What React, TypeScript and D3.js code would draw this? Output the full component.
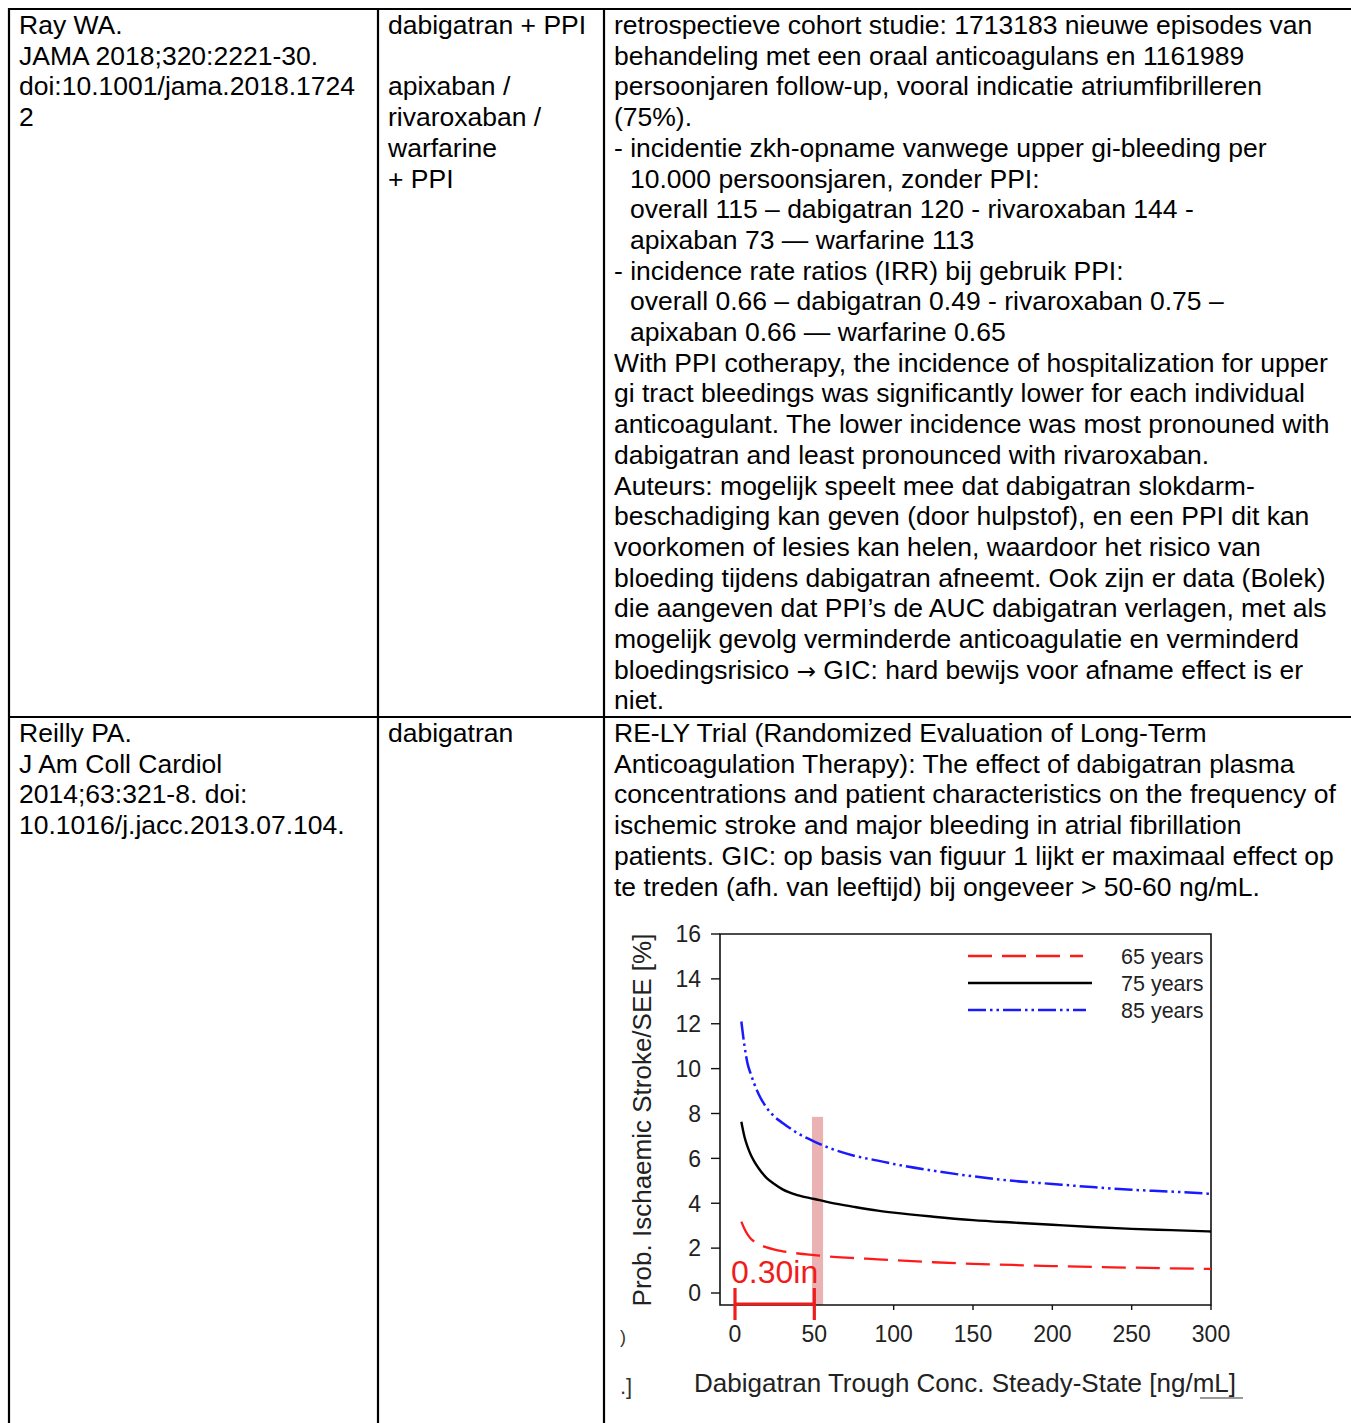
import React, { useEffect, useRef } from 'react';
import * as d3 from 'd3';

// table text
const row1Ref = ['Ray WA.', 'JAMA 2018;320:2221-30.', 'doi:10.1001/jama.2018.1724', '2'];
const row1Drug = ['dabigatran + PPI', '', 'apixaban /', 'rivaroxaban /', 'warfarine', '+ PPI'];
const row1Notes = [
    ['retrospectieve cohort studie: 1713183 nieuwe episodes van', 0],
    ['behandeling met een oraal anticoagulans en 1161989', 0],
    ['persoonjaren follow-up, vooral indicatie atriumfibrilleren', 0],
    ['(75%).', 0],
    ['- incidentie zkh-opname vanwege upper gi-bleeding per', 0],
    ['10.000 persoonsjaren, zonder PPI:', 1],
    ['overall 115 – dabigatran 120 - rivaroxaban 144 -', 1],
    ['apixaban 73 — warfarine 113', 1],
    ['- incidence rate ratios (IRR) bij gebruik PPI:', 0],
    ['overall 0.66 – dabigatran 0.49 - rivaroxaban 0.75 –', 1],
    ['apixaban 0.66 — warfarine 0.65', 1],
    ['With PPI cotherapy, the incidence of hospitalization for upper', 0],
    ['gi tract bleedings was significantly lower for each individual', 0],
    ['anticoagulant. The lower incidence was most pronouned with', 0],
    ['dabigatran and least pronounced with rivaroxaban.', 0],
    ['Auteurs: mogelijk speelt mee dat dabigatran slokdarm-', 0],
    ['beschadiging kan geven (door hulpstof), en een PPI dit kan', 0],
    ['voorkomen of lesies kan helen, waardoor het risico van', 0],
    ['bloeding tijdens dabigatran afneemt. Ook zijn er data (Bolek)', 0],
    ['die aangeven dat PPI’s de AUC dabigatran verlagen, met als', 0],
    ['mogelijk gevolg verminderde anticoagulatie en verminderd', 0],
    ['bloedingsrisico → GIC: hard bewijs voor afname effect is er', 0],
    ['niet.', 0],
];
const row2Ref = ['Reilly PA.', 'J Am Coll Cardiol', '2014;63:321-8. doi:', '10.1016/j.jacc.2013.07.104.'];
const row2Drug = ['dabigatran'];
const row2Notes = [
    'RE-LY Trial (Randomized Evaluation of Long-Term',
    'Anticoagulation Therapy): The effect of dabigatran plasma',
    'concentrations and patient characteristics on the frequency of',
    'ischemic stroke and major bleeding in atrial fibrillation',
    'patients. GIC: op basis van figuur 1 lijkt er maximaal effect op',
    'te treden (afh. van leeftijd) bij ongeveer > 50-60 ng/mL.',
];

// chart data
const conc = [4, 6, 8, 10, 12, 15, 20, 25, 30, 40, 50, 60, 75, 90, 100, 125, 150, 175, 200, 225, 250, 275, 300];
const age65 = [3.18, 2.85, 2.6, 2.42, 2.3, 2.17, 2.03, 1.93, 1.86, 1.76, 1.69, 1.62, 1.56, 1.5, 1.46, 1.37, 1.3, 1.25, 1.2, 1.16, 1.13, 1.1, 1.07];
const age75 = [7.63, 6.95, 6.5, 6.15, 5.88, 5.55, 5.12, 4.85, 4.62, 4.35, 4.19, 4.03, 3.84, 3.67, 3.58, 3.4, 3.25, 3.14, 3.04, 2.94, 2.86, 2.8, 2.74];
const age85 = [12.1, 11.0, 10.2, 9.75, 9.35, 8.85, 8.25, 7.85, 7.58, 7.1, 6.75, 6.45, 6.12, 5.9, 5.75, 5.45, 5.2, 5.0, 4.86, 4.72, 4.6, 4.52, 4.42];
const xTicks = [0, 50, 100, 150, 200, 250, 300];
const yTicks = [0, 2, 4, 6, 8, 10, 12, 14, 16];
const seriesNames = ['65 years', '75 years', '85 years'];

const FONT = "'Liberation Sans', Arial, Helvetica, sans-serif";

function App() {
    const ref = useRef(null);
    const width = 1351;
    const height = 1423;

    useEffect(() => {
        const svg = d3.select(ref.current);
        svg.selectAll('*').remove();
        svg.append('rect').attr('width', width).attr('height', height).attr('fill', 'white');

        // ---- table ----
        const lh = 30.7;
        const fs = 26.5;
        const cols = [19, 388, 614];
        const row1Top = 34;
        const row2Top = 742;

        function writeLines(lines, x, y0) {
            lines.forEach((l, i) => {
                const txt = Array.isArray(l) ? l[0] : l;
                const ind = Array.isArray(l) ? l[1] : 0;
                if (!txt) return;
                const t = svg.append('text')
                    .attr('x', x + ind * 16)
                    .attr('y', y0 + i * lh)
                    .style('font-family', FONT)
                    .style('font-size', fs + 'px')
                    .style('fill', '#000');
                // arrow glyph is tiny in Liberation, borrow it from DejaVu
                txt.split(/(→)/).forEach(part => {
                    if (!part) return;
                    const sp = t.append('tspan').text(part);
                    if (part === '→') sp.style('font-family', "'DejaVu Sans', sans-serif").style('font-size', '23px');
                });
            });
        }
        writeLines(row1Ref, cols[0], row1Top);
        writeLines(row1Drug, cols[1], row1Top);
        writeLines(row1Notes, cols[2], row1Top);
        writeLines(row2Ref, cols[0], row2Top);
        writeLines(row2Drug, cols[1], row2Top);
        writeLines(row2Notes, cols[2], row2Top);

        const border = svg.append('g').attr('stroke', '#000').attr('stroke-width', 2.2);
        border.append('line').attr('x1', 8).attr('x2', width).attr('y1', 9).attr('y2', 9);
        border.append('line').attr('x1', 8).attr('x2', width).attr('y1', 717).attr('y2', 717);
        [9, 378, 604].forEach(x => {
            border.append('line').attr('x1', x).attr('x2', x).attr('y1', 8).attr('y2', height);
        });

        // ---- chart ----
        const x = d3.scaleLinear().domain([0, 300]).range([735, 1211]);
        const y = d3.scaleLinear().domain([0, 16]).range([1293, 934]);
        const frameL = 720, frameB = 1305;

        // shaded band around 50 ng/mL
        svg.append('rect')
            .attr('x', x(48.5))
            .attr('y', y(7.85))
            .attr('width', x(55.5) - x(48.5))
            .attr('height', frameB - y(7.85))
            .attr('fill', '#e6a4a4')
            .attr('opacity', 0.85);

        const chart = svg.append('g').style('font-family', FONT);

        // frame
        chart.append('path')
            .attr('d', `M${frameL},${y(16)} H${x(300)} V${frameB} H${frameL} Z`)
            .attr('fill', 'none')
            .attr('stroke', '#111')
            .attr('stroke-width', 1.6);

        yTicks.forEach(t => {
            chart.append('line')
                .attr('x1', frameL - 9).attr('x2', frameL)
                .attr('y1', y(t)).attr('y2', y(t))
                .attr('stroke', '#111').attr('stroke-width', 1.4);
            chart.append('text')
                .attr('x', 701)
                .attr('y', y(t))
                .attr('dy', '0.36em')
                .attr('text-anchor', 'end')
                .style('font-size', '23px')
                .style('fill', '#222')
                .text(t);
        });
        xTicks.forEach(t => {
            chart.append('line')
                .attr('x1', x(t)).attr('x2', x(t))
                .attr('y1', frameB).attr('y2', frameB + 5)
                .attr('stroke', '#111').attr('stroke-width', 1.4);
            chart.append('text')
                .attr('x', x(t))
                .attr('y', 1342)
                .attr('text-anchor', 'middle')
                .style('font-size', '23px')
                .style('fill', '#222')
                .text(t);
        });

        chart.append('text')
            .attr('transform', `translate(651,1120) rotate(-90)`)
            .attr('text-anchor', 'middle')
            .style('font-size', '26px')
            .style('fill', '#222')
            .text('Prob. Ischaemic Stroke/SEE [%]');
        chart.append('text')
            .attr('x', 965)
            .attr('y', 1392)
            .attr('text-anchor', 'middle')
            .style('font-size', '26px')
            .style('fill', '#222')
            .text('Dabigatran Trough Conc. Steady-State [ng/mL]');
        chart.append('line')
            .attr('x1', 1200).attr('x2', 1243).attr('y1', 1398).attr('y2', 1398)
            .attr('stroke', '#777').attr('stroke-width', 1.5);
        // crop leftovers
        chart.append('text').attr('x', 620).attr('y', 1343).style('font-size', '18px').style('fill', '#333').text(')');
        chart.append('text').attr('x', 620).attr('y', 1394).style('font-size', '22px').style('fill', '#333').text('.]');

        const line = d3.line()
            .x(d => x(d[0]))
            .y(d => y(d[1]))
            .curve(d3.curveMonotoneX);

        const styles = [
            { color: '#ff1a1a', dash: '24,10', w: 2.3, values: age65, lx2: 1083 },
            { color: '#000', dash: null, w: 2.4, values: age75, lx2: 1092 },
            { color: '#1a1aff', dash: '18,4,2.5,4,2.5,4', w: 2.5, values: age85, lx2: 1086 },
        ];
        styles.forEach((s, i) => {
            chart.append('path')
                .datum(conc.map((c, j) => [c, s.values[j]]))
                .attr('d', line)
                .attr('fill', 'none')
                .attr('stroke', s.color)
                .attr('stroke-width', s.w)
                .attr('stroke-dasharray', s.dash);
            const ly = 956 + i * 27;
            chart.append('line')
                .attr('x1', 968).attr('x2', s.lx2)
                .attr('y1', ly).attr('y2', ly)
                .attr('stroke', s.color)
                .attr('stroke-width', s.w)
                .attr('stroke-dasharray', s.dash);
            chart.append('text')
                .attr('x', 1121)
                .attr('y', ly)
                .attr('dy', '0.36em')
                .style('font-size', '21.5px')
                .style('fill', '#222')
                .text(seriesNames[i]);
        });

        // red measurement annotation
        const red = '#f01c1c';
        const ann = svg.append('g').attr('stroke', red).attr('stroke-width', 3.2);
        ann.append('line').attr('x1', x(0)).attr('x2', x(50)).attr('y1', 1304).attr('y2', 1304);
        ann.append('line').attr('x1', x(0)).attr('x2', x(0)).attr('y1', 1288).attr('y2', 1320);
        ann.append('line').attr('x1', x(50)).attr('x2', x(50)).attr('y1', 1288).attr('y2', 1320);
        svg.append('text')
            .attr('x', 731)
            .attr('y', 1283)
            .style('font-family', FONT)
            .style('font-size', '32px')
            .style('fill', red)
            .text('0.30in');
    }, []);

    return (
        <svg
            ref={ref}
            width={width}
            height={height}
            style={{ position: 'absolute', left: 0, top: 0, display: 'block' }}
        ></svg>
    );
}

export default App;
